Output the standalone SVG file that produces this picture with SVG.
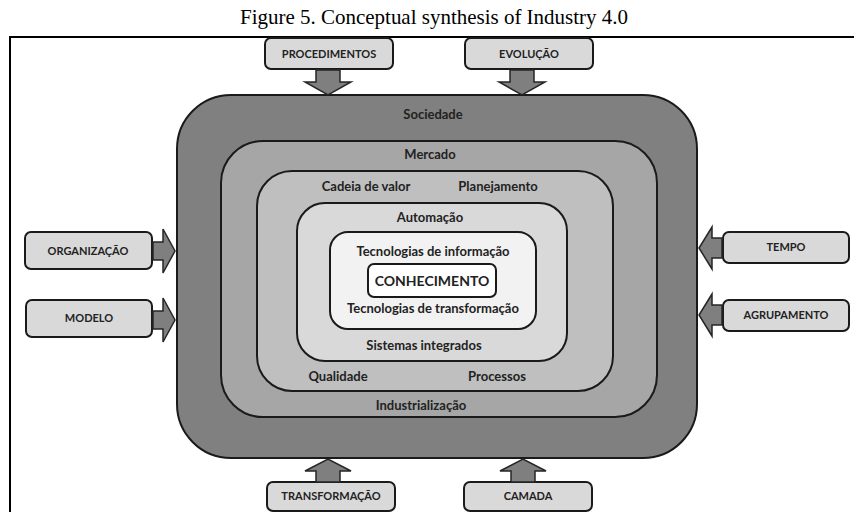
<svg xmlns="http://www.w3.org/2000/svg" width="854" height="512" viewBox="0 0 854 512">
  <style>
    .title { font-family: "Liberation Serif", "Times New Roman", serif; font-size: 21px; fill: #000; }
    .ring { stroke: #1a1a1a; stroke-width: 2; }
    .lbl { font-family: Lato, "Liberation Sans", sans-serif; font-weight: bold; font-size: 13px; fill: #222; text-anchor: middle; }
    .core { font-size: 14px; }
    .box rect { fill: #d9d9d9; stroke: #1a1a1a; stroke-width: 2; }
    .box text { font-family: Lato, "Liberation Sans", sans-serif; font-weight: bold; font-size: 11px; fill: #222; text-anchor: middle; }
    .arrow { fill: #7f7f7f; stroke: #262626; stroke-width: 1.5; stroke-linejoin: miter; }
  </style>

  <rect width="854" height="512" fill="#fff"/>

  <!-- caption -->
  <text class="title" x="434" y="24" text-anchor="middle" textLength="388" lengthAdjust="spacingAndGlyphs">Figure 5. Conceptual synthesis of Industry 4.0</text>

  <!-- frame -->
  <path d="M10 512 V37 H854" fill="none" stroke="#000" stroke-width="2"/>

  <!-- nested layers -->
  <g id="sociedade">
    <rect class="ring" x="177" y="95" width="520" height="363" rx="54" fill="#808080"/>
    <text class="lbl" x="433" y="119">Sociedade</text>
  </g>
  <g id="mercado">
    <rect class="ring" x="221" y="141" width="436" height="276" rx="42" fill="#a6a6a6"/>
    <text class="lbl" x="430" y="159">Mercado</text>
    <text class="lbl" x="421" y="410">Industrialização</text>
  </g>
  <g id="cadeia">
    <rect class="ring" x="257" y="171" width="356" height="220" rx="35" fill="#bfbfbf"/>
    <text class="lbl" x="366" y="191">Cadeia de valor</text>
    <text class="lbl" x="498" y="191">Planejamento</text>
    <text class="lbl" x="338" y="381">Qualidade</text>
    <text class="lbl" x="497" y="381">Processos</text>
  </g>
  <g id="automacao">
    <rect class="ring" x="297" y="203" width="270" height="158" rx="28" fill="#d9d9d9"/>
    <text class="lbl" x="430" y="222">Automação</text>
    <text class="lbl" x="424" y="350">Sistemas integrados</text>
  </g>
  <g id="tecnologias">
    <rect class="ring" x="330" y="232" width="206" height="97" rx="18" fill="#f2f2f2"/>
    <text class="lbl" x="433" y="256">Tecnologias de informação</text>
    <text class="lbl" x="433" y="313">Tecnologias de transformação</text>
  </g>
  <g id="conhecimento">
    <rect class="ring" x="368" y="264" width="128" height="33" rx="6" fill="#fff"/>
    <text class="lbl core" x="432" y="286">CONHECIMENTO</text>
  </g>

  <!-- outside factors -->
  <g id="procedimentos" class="box">
    <rect x="265" y="38" width="128" height="31" rx="6"/>
    <text x="329" y="58">PROCEDIMENTOS</text>
  </g>
  <g id="evolucao" class="box">
    <rect x="465" y="38" width="128" height="31" rx="6"/>
    <text x="529" y="58">EVOLUÇÃO</text>
  </g>
  <g id="organizacao" class="box">
    <rect x="25" y="232" width="127" height="37" rx="6"/>
    <text x="88" y="255">ORGANIZAÇÃO</text>
  </g>
  <g id="modelo" class="box">
    <rect x="26" y="300" width="126" height="37" rx="6"/>
    <text x="89" y="322">MODELO</text>
  </g>
  <g id="tempo" class="box">
    <rect x="723" y="232" width="126" height="31" rx="6"/>
    <text x="786" y="251">TEMPO</text>
  </g>
  <g id="agrupamento" class="box">
    <rect x="723" y="300" width="126" height="31" rx="6"/>
    <text x="786" y="319">AGRUPAMENTO</text>
  </g>
  <g id="transformacao" class="box">
    <rect x="267" y="482" width="128" height="29" rx="6"/>
    <text x="331" y="500">TRANSFORMAÇÃO</text>
  </g>
  <g id="camada" class="box">
    <rect x="464" y="482" width="128" height="29" rx="6"/>
    <text x="528" y="500">CAMADA</text>
  </g>

  <!-- block arrows into the layers -->
  <g id="connectors">
    <path class="arrow" d="M316 70 H340 V82 H351 L328 95 L305 82 H316 Z"/>
    <path class="arrow" d="M510 70 H534 V82 H545 L522 95 L499 82 H510 Z"/>
    <path class="arrow" d="M316 482 H340 V471 H351 L328 459 L305 471 H316 Z"/>
    <path class="arrow" d="M511 482 H535 V471 H546 L523 459 L500 471 H511 Z"/>
    <path class="arrow" d="M153 242 V260 H163 V273 L175 251 L163 229 V242 Z"/>
    <path class="arrow" d="M153 311 V329 H163 V342 L175 320 L163 298 V311 Z"/>
    <path class="arrow" d="M722 238 V258 H712 V269 L699 248 L712 227 V238 Z"/>
    <path class="arrow" d="M722 305 V325 H712 V336 L699 315 L712 294 V305 Z"/>
  </g>
</svg>
